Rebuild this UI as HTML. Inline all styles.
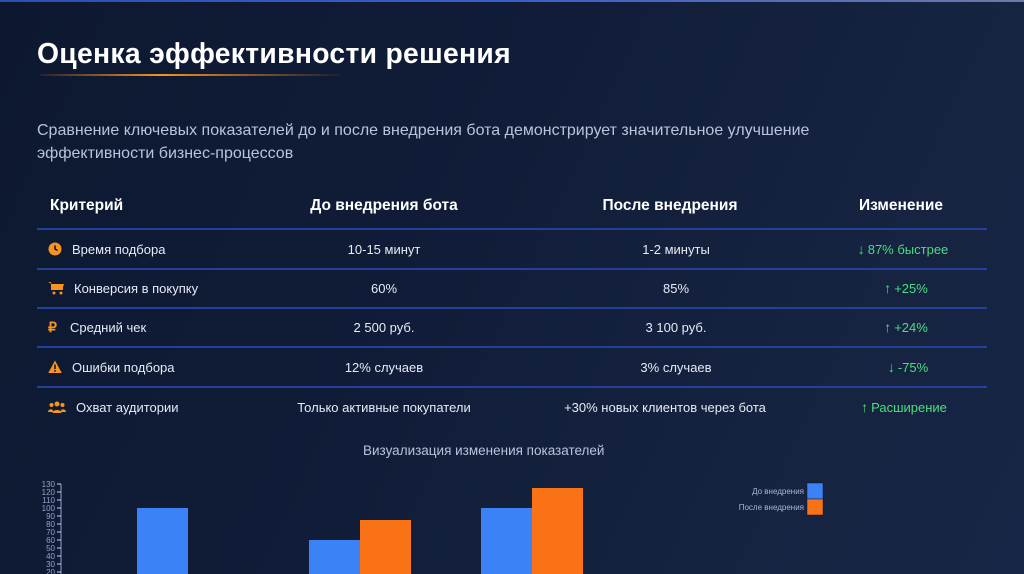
<!DOCTYPE html>
<html><head><meta charset="utf-8">
<style>
html,body{margin:0;padding:0}
body{width:1024px;height:574px;overflow:hidden;position:relative;
background:linear-gradient(115deg,#0d1830 0%,#111d38 45%,#15223f 70%,#172646 100%);
font-family:"Liberation Sans","Noto Sans CJK SC",sans-serif;color:#fff}
.topline{position:absolute;left:0;top:0;width:1024px;height:2px;background:linear-gradient(90deg,#2c4fb0,#3b5fc8,#6d78a8)}
h1{position:absolute;left:37px;top:37px;margin:0;font-size:28.3px;font-weight:bold;letter-spacing:0.3px}
.uline{position:absolute;left:40px;top:74px;width:300px;height:2px;background:linear-gradient(90deg,rgba(249,115,22,0.1),#f7931e 40%,rgba(249,115,22,0.05))}
.sub{position:absolute;left:37px;top:119px;width:840px;font-size:16px;line-height:23px;color:#b8c4dd}
.hd{position:absolute;top:197px;font-size:15.5px;font-weight:bold}
.cell{position:absolute;font-size:13px;color:#e6ebf5;white-space:nowrap}
.c{transform:translateX(-50%)}
.g{color:#4ade80}
.g b{font-size:14px;margin-right:3px}
.rl{position:absolute;left:37px;width:950px;height:2px;background:#24409a}
.ic{position:absolute;left:48px;width:14px;height:14px}
.title2{position:absolute;left:363px;top:443px;font-size:13.5px;color:#b8c4dd}
</style></head><body>
<div class="topline"></div>
<h1>Оценка эффективности решения</h1>
<div class="uline"></div>
<div class="sub">Сравнение ключевых показателей до и после внедрения бота демонстрирует значительное улучшение эффективности бизнес-процессов</div>

<div>
<div class="hd" style="left:50px">Критерий</div>
<div class="hd c" style="left:384px">До внедрения бота</div>
<div class="hd c" style="left:670px">После внедрения</div>
<div class="hd c" style="left:901px">Изменение</div>
<div class="rl" style="top:228px"></div>
<div class="rl" style="top:268px"></div>
<div class="rl" style="top:307px"></div>
<div class="rl" style="top:346px"></div>
<div class="rl" style="top:386px"></div>

<svg class="ic" style="top:242px" viewBox="0 0 14 14"><circle cx="7" cy="7" r="6.5" fill="#f7931e"/><path d="M7 3.5V7l2.5 1.5" stroke="#111d38" stroke-width="1.6" fill="none"/></svg>
<div class="cell" style="left:72px;top:242px">Время подбора</div>
<div class="cell c" style="left:384px;top:242px">10-15 минут</div>
<div class="cell c" style="left:676px;top:242px">1-2 минуты</div>
<div class="cell c g" style="left:903px;top:241px"><b>↓</b>87% быстрее</div>

<svg class="ic" style="top:281px;width:16px" viewBox="0 0 16 14"><path d="M0 1h3l2 8h9l2-6H4" fill="#f7931e"/><rect x="3" y="3" width="12" height="6" fill="#f7931e"/><circle cx="6" cy="12" r="1.5" fill="#f7931e"/><circle cx="13" cy="12" r="1.5" fill="#f7931e"/></svg>
<div class="cell" style="left:74px;top:281px">Конверсия в покупку</div>
<div class="cell c" style="left:384px;top:281px">60%</div>
<div class="cell c" style="left:676px;top:281px">85%</div>
<div class="cell c g" style="left:906px;top:280px"><b>↑</b>+25%</div>

<div class="cell" style="left:48px;top:319px;color:#f7931e;font-weight:bold;font-size:14px">₽</div>
<div class="cell" style="left:70px;top:320px">Средний чек</div>
<div class="cell c" style="left:384px;top:320px">2 500 руб.</div>
<div class="cell c" style="left:676px;top:320px">3 100 руб.</div>
<div class="cell c g" style="left:906px;top:319px"><b>↑</b>+24%</div>

<svg class="ic" style="top:360px" viewBox="0 0 14 14"><path d="M7 0.5L13.8 13H0.2Z" fill="#f7931e"/><rect x="6.2" y="4.5" width="1.6" height="4.5" fill="#111d38"/><rect x="6.2" y="10" width="1.6" height="1.6" fill="#111d38"/></svg>
<div class="cell" style="left:72px;top:360px">Ошибки подбора</div>
<div class="cell c" style="left:384px;top:360px">12% случаев</div>
<div class="cell c" style="left:676px;top:360px">3% случаев</div>
<div class="cell c g" style="left:908px;top:359px"><b>↓</b>-75%</div>

<svg class="ic" style="top:400px;width:18px" viewBox="0 0 18 14"><circle cx="9" cy="4" r="2.5" fill="#f7931e"/><circle cx="3.5" cy="5" r="2" fill="#f7931e"/><circle cx="14.5" cy="5" r="2" fill="#f7931e"/><path d="M4.5 13c0-4 9-4 9 0z" fill="#f7931e"/><path d="M0 12c0-3 5-4 5-1v1z M18 12c0-3-5-4-5-1v1z" fill="#f7931e"/></svg>
<div class="cell" style="left:76px;top:400px">Охват аудитории</div>
<div class="cell c" style="left:384px;top:400px">Только активные покупатели</div>
<div class="cell c" style="left:665px;top:400px">+30% новых клиентов через бота</div>
<div class="cell c g" style="left:904px;top:399px"><b>↑</b>Расширение</div>
</div>

<div class="title2">Визуализация изменения показателей</div>
<svg id="chart" style="position:absolute;left:0;top:0" width="1024" height="574"></svg>

<script>
const categories = ["Время подбора","Конверсия","Средний чек"];
const beforeValues = [100, 60, 100];
const afterValues = [13, 85, 125];
const tickValues = [20,30,40,50,60,70,80,90,100,110,120,130];
const seriesNames = ["До внедрения","После внедрения"];

const NS="http://www.w3.org/2000/svg";
const svg=document.getElementById('chart');
const y0=588, pxPerUnit=0.8;
function y(v){return y0-v*pxPerUnit;}
const groupStart=137, groupStep=172, barW=51;
function x(i){return groupStart+i*groupStep;}
function mk(tag,attrs){const e=document.createElementNS(NS,tag);for(const k in attrs)e.setAttribute(k,attrs[k]);svg.appendChild(e);return e;}

const axis=mk('line',{x1:61,x2:61,y1:y(130),y2:574,stroke:'#8fa3c8','stroke-width':1});


tickValues.forEach(v=>{
  const t=mk('line',{x1:57,x2:61,y1:y(v),y2:y(v),stroke:'#c8d3ea','stroke-width':1});
  
  
  const l=mk('text',{x:55,y:y(v)+3,'text-anchor':'end','font-size':8,fill:'#8fa3c8','font-family':'Liberation Sans, sans-serif'});
  l.textContent=v;
  
  
});
categories.forEach((c,i)=>{
  const b=mk('rect',{x:x(i),y:y(beforeValues[i]),width:barW,height:y0-y(beforeValues[i]),fill:'#3b82f6'});
  
  
  const a=mk('rect',{x:x(i)+barW,y:y(afterValues[i]),width:barW,height:y0-y(afterValues[i]),fill:'#f97316'});
  
  
});
const colors=['#3b82f6','#f97316'];
seriesNames.forEach((n,i)=>{
  const r=mk('rect',{x:807,y:483+i*16,width:16,height:16,fill:colors[i],stroke:'#0d1830','stroke-width':0.5});
  
  
  const t=mk('text',{x:804,y:494+i*16,'text-anchor':'end','font-size':8,fill:'#a9b8d6','font-family':'Liberation Sans, sans-serif'});
  t.textContent=n;
  
  
});
</script>
</body></html>
